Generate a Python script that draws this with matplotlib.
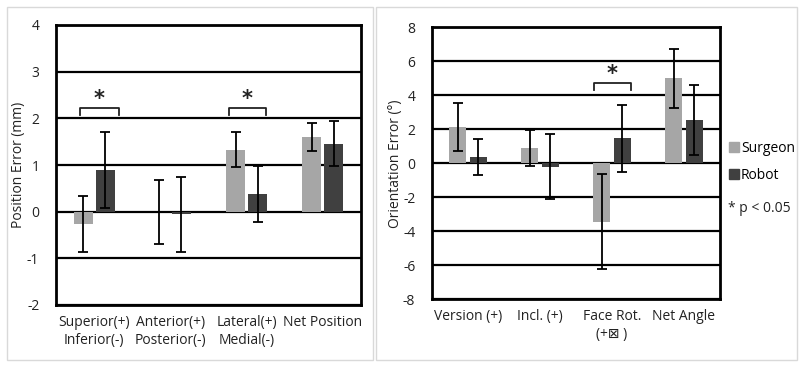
import numpy as np
import matplotlib.pyplot as plt
from matplotlib.patches import Rectangle
from matplotlib.lines import Line2D

plt.rcParams['font.family'] = ['Open Sans', 'DejaVu Sans']

# position error data (mm)
pos_labels = ['Superior(+)\nInferior(-)', 'Anterior(+)\nPosterior(-)', 'Lateral(+)\nMedial(-)', 'Net Position']
pos_surgeon = [-0.27, -0.01, 1.33, 1.60]
pos_surgeon_err = [0.60, 0.69, 0.37, 0.29]
pos_robot = [0.89, -0.055, 0.38, 1.46]
pos_robot_err = [0.81, 0.80, 0.60, 0.49]
pos_sig = [(0, -0.18, 0.32, 2.23), (2, -0.235, 0.25, 2.23)]  # category, left, right, height

# orientation error data (deg)
ori_labels = ['Version (+)', 'Incl. (+)', 'Face Rot.\n(+\u22a0 )', 'Net Angle']
ori_surgeon = [2.15, 0.90, -3.43, 5.00]
ori_surgeon_err = [1.40, 1.03, 2.80, 1.75]
ori_robot = [0.39, -0.20, 1.47, 2.55]
ori_robot_err = [1.05, 1.92, 1.96, 2.08]
ori_sig = [(2, -0.25, 0.26, 4.72)]

c_surg = '#a6a6a6'
c_rob = '#404040'
fs = 10

fig = plt.figure(figsize=(8, 3.69), dpi=100)

# light panel frames
fig.patches.append(Rectangle((7/800, 9/369), 366/800, 353/369, transform=fig.transFigure,
                             fill=False, ec='#d9d9d9', lw=1))
fig.patches.append(Rectangle((376/800, 9/369), 421/800, 353/369, transform=fig.transFigure,
                             fill=False, ec='#d9d9d9', lw=1))


def panel(ax, labels, s, se, r, re, sig, ylim, step, w, off, leg_drop, ylabel):
    x = np.arange(len(labels))
    ax.bar(x - off, s, w, color=c_surg, zorder=3)
    ax.bar(x + off, r, w, color=c_rob, zorder=3)
    ax.errorbar(x - off, s, yerr=se, fmt='none', ecolor='black', elinewidth=1.3, capsize=3.5, capthick=1.3, zorder=4)
    ax.errorbar(x + off, r, yerr=re, fmt='none', ecolor='black', elinewidth=1.3, capsize=3.5, capthick=1.3, zorder=4)
    for cat, l, rr, h in sig:
        ax.plot([cat + l, cat + l, cat + rr, cat + rr], [h - leg_drop, h, h, h - leg_drop],
                color='#222222', lw=1.3, clip_on=False, zorder=5)
        ax.text(cat + (l + rr) / 2, h - leg_drop * 0.2, '*', ha='center', va='bottom',
                fontsize=15, fontweight='bold', color='#222222', family='DejaVu Sans')
    ax.set_xlim(-0.5, len(labels) - 0.5)
    ax.set_ylim(*ylim)
    ticks = np.arange(ylim[0], ylim[1] + step / 2, step)
    ax.set_yticks(ticks)
    ax.set_yticklabels([str(int(t)) for t in ticks])
    for t in ticks:
        ax.axhline(t, color='black', lw=1.6, zorder=2)
    ax.set_xticks(x)
    ax.set_xticklabels(labels, fontsize=fs, linespacing=1.3)
    ax.tick_params(length=0, labelsize=fs, colors='#222222')
    ax.tick_params(axis='y', pad=12)
    ax.tick_params(axis='x', pad=7)
    for sp in ax.spines.values():
        sp.set_linewidth(2)
        sp.set_color('black')
    ax.set_ylabel(ylabel, fontsize=fs, color='#222222')


ax1 = fig.add_axes([56/800, 64/369, 305/800, 280/369])
panel(ax1, pos_labels, pos_surgeon, pos_surgeon_err, pos_robot, pos_robot_err, pos_sig,
      (-2, 4), 1, 0.25, 0.145, 0.15, 'Position Error (mm)')
ax1.yaxis.set_label_coords(-0.1, 0.5)

ax2 = fig.add_axes([432/800, 69.7/369, 288/800, 272/369])
panel(ax2, ori_labels, ori_surgeon, ori_surgeon_err, ori_robot, ori_robot_err, ori_sig,
      (-8, 8), 2, 0.24, 0.143, 0.4, 'Orientation Error (\u00b0)')
ax2.yaxis.set_label_coords(-0.1, 0.5)

handles = [Line2D([], [], marker='s', ls='none', color=c_surg, markersize=6.5),
           Line2D([], [], marker='s', ls='none', color=c_rob, markersize=6.5)]
fig.legend(handles, ['Surgeon', 'Robot'], loc='upper left', bbox_to_anchor=(727/800, 1 - 141/369),
           frameon=False, fontsize=fs, handletextpad=0.0, labelspacing=0.85, handlelength=1,
           borderpad=0, borderaxespad=0)
fig.text(728/800, 1 - 209/369, '* p < 0.05', fontsize=fs, va='center', color='#222222')

fig.savefig('out.png', dpi=100)
